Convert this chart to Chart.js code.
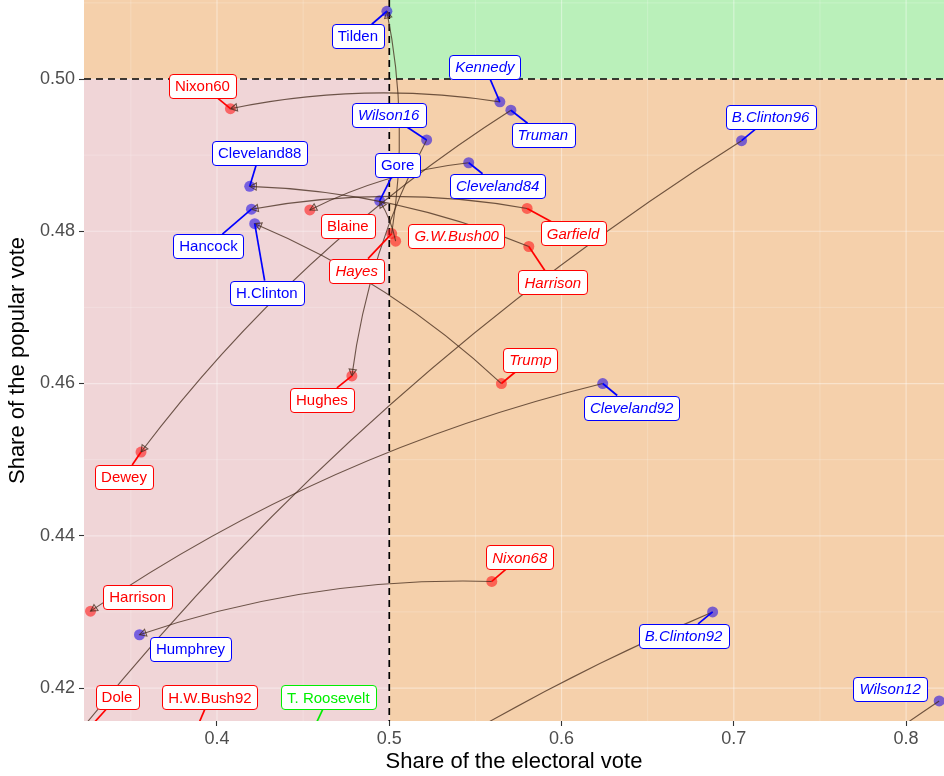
<!DOCTYPE html>
<html><head><meta charset="utf-8">
<script src="https://cdn.jsdelivr.net/npm/chart.js@4.4.1/dist/chart.umd.min.js"></script>
<style>html,body{margin:0;padding:0;background:#fff}#wrap{width:944px;height:776px;position:relative}</style>
</head><body><div id="wrap"><canvas id="c"></canvas></div>
<script>
// ---- data ----
const candidates = ["Tilden","Hayes","Hancock","Garfield","Blaine","Cleveland84","Cleveland88","Harrison","Harrison","Cleveland92","Wilson12","T. Roosevelt","Wilson16","Hughes","Truman","Dewey","Kennedy","Nixon60","Nixon68","Humphrey","B.Clinton92","H.W.Bush92","B.Clinton96","Dole","G.W.Bush00","Gore","Trump","H.Clinton"];
const years = [1876,1876,1880,1880,1884,1884,1888,1888,1892,1892,1912,1912,1916,1916,1948,1948,1960,1960,1968,1968,1992,1992,1996,1996,2000,2000,2016,2016];
const electoralShare = [0.4986,0.5014,0.4200,0.5800,0.4539,0.5461,0.4190,0.5810,0.3266,0.6239,0.8192,0.1657,0.5217,0.4783,0.5706,0.3559,0.5642,0.4078,0.5595,0.3550,0.6877,0.3123,0.7045,0.2955,0.5037,0.4944,0.5651,0.4219];
const popularShare = [0.5089,0.4797,0.4829,0.4830,0.4828,0.4890,0.4859,0.4780,0.4301,0.4600,0.4183,0.2744,0.4920,0.4610,0.4959,0.4510,0.4970,0.4961,0.4340,0.4270,0.4300,0.3745,0.4919,0.4071,0.4787,0.4840,0.4600,0.4810];
const parties = ["D","R","D","R","R","D","D","R","R","D","D","P","D","R","D","R","D","R","R","D","D","R","D","R","R","D","R","D"];
const won = [false,true,false,true,false,true,false,true,false,true,true,false,true,false,true,false,true,false,true,false,true,false,true,false,true,false,true,false];
const xTicks = [0.4,0.5,0.6,0.7,0.8];
const yTicks = [0.42,0.44,0.46,0.48,0.50];
const xMinor = [0.35,0.45,0.55,0.65,0.75];
const yMinor = [0.43,0.45,0.47,0.49,0.51];
const xRange = [0.3228,0.822];
const yRange = [0.41567,0.51038];
const majority = 0.5;

// ---- layout / style (pixel offsets of label boxes from their point) ----
const labelOffsets = [[-29,25],[-35,37],[-43,37],[46,25],[38,16],[29,23],[10,-33],[24,36],[47,-14],[29,24],[-49,-12],[515,-1099],[-38,-25],[-30,24],[32,25],[-17,25],[-15,-35],[-28,-23],[28,-24],[51,14],[-29,24],[144,-337],[29,-24],[80,-89],[61,-5],[18,-36],[29,-24],[12,69]];
const partyColor = {D:'#0000ff', R:'#ff0000', P:'#00ee00'};
const pointColor = {D:'rgba(20,0,230,0.55)', R:'rgba(255,20,20,0.58)', P:'rgba(0,220,0,0.55)'};
const FONT = "'Liberation Sans', Arial, Helvetica, sans-serif";

const datasets = ['R','D','P'].map(p => ({
  label: p,
  data: candidates.map((c,i)=>({x:electoralShare[i], y:popularShare[i], p:parties[i]})).filter(d=>d.p===p),
  pointRadius: 5.5, pointBorderWidth: 0, pointBackgroundColor: pointColor[p],
  showLine: false, clip: 0
}));

const bgPlugin = {
  id: 'bg',
  beforeDraw(chart) {
    const {ctx, chartArea: a, scales: {x, y}} = chart;
    const xm = x.getPixelForValue(majority), ym = y.getPixelForValue(majority);
    ctx.save();
    ctx.fillStyle = '#f5d0ab'; ctx.fillRect(a.left, a.top, a.width, a.height);
    ctx.fillStyle = '#f0d5d7'; ctx.fillRect(a.left, ym, xm - a.left, a.bottom - ym);
    ctx.fillStyle = '#baf0ba'; ctx.fillRect(xm, a.top, a.right - xm, ym - a.top);
    ctx.beginPath(); ctx.rect(a.left, a.top, a.width, a.height); ctx.clip();
    const line = (x1,y1,x2,y2,w,c)=>{ctx.strokeStyle=c;ctx.lineWidth=w;ctx.beginPath();ctx.moveTo(x1,y1);ctx.lineTo(x2,y2);ctx.stroke();};
    xMinor.forEach(v=>{const px=x.getPixelForValue(v); line(px,a.top,px,a.bottom,0.6,'rgba(255,255,255,0.35)');});
    yMinor.forEach(v=>{const py=y.getPixelForValue(v); line(a.left,py,a.right,py,0.6,'rgba(255,255,255,0.35)');});
    xTicks.forEach(v=>{const px=x.getPixelForValue(v); line(px,a.top,px,a.bottom,1.2,'rgba(255,255,255,0.4)');});
    yTicks.forEach(v=>{const py=y.getPixelForValue(v); line(a.left,py,a.right,py,1.2,'rgba(255,255,255,0.4)');});
    ctx.setLineDash([7,5]);
    line(xm,a.top,xm,a.bottom,1.7,'#000');
    line(a.left,ym,a.right,ym,1.7,'#000');
    ctx.restore();
  }
};

function boxOf(ctx, i, px, py) {
  ctx.font = (won[i] ? 'italic ' : '') + '15px ' + FONT;
  const w = ctx.measureText(candidates[i]).width + 12, h = 24;
  const cx = px + labelOffsets[i][0], cy = py + labelOffsets[i][1];
  return {cx, cy, w, h};
}

const annoPlugin = {
  id: 'anno',
  afterDatasetsDraw(chart) {
    const {ctx, chartArea: a, scales: {x, y}} = chart;
    const P = candidates.map((c,i)=>[x.getPixelForValue(electoralShare[i]), y.getPixelForValue(popularShare[i])]);
    ctx.save();
    ctx.beginPath(); ctx.rect(a.left, a.top, a.width, a.height); ctx.clip();
    // arrows winner -> loser
    ctx.strokeStyle = 'rgba(65,40,25,0.75)'; ctx.lineWidth = 1.1;
    candidates.forEach((c,i)=>{
      if (!won[i]) return;
      candidates.forEach((d,j)=>{
        if (j===i || years[j]!==years[i] || won[j]) return;
        const [x1,y1] = P[i], [x2,y2] = P[j];
        const dx=x2-x1, dy=y2-y1, k=0.09;
        const cx=(x1+x2)/2 - k*dy, cy=(y1+y2)/2 + k*dx;
        ctx.beginPath(); ctx.moveTo(x1,y1); ctx.quadraticCurveTo(cx,cy,x2,y2); ctx.stroke();
        const ang = Math.atan2(y2-cy, x2-cx), len=7.5, sp=0.5;
        ctx.beginPath();
        ctx.moveTo(x2,y2);
        ctx.lineTo(x2-len*Math.cos(ang-sp), y2-len*Math.sin(ang-sp));
        ctx.lineTo(x2-len*Math.cos(ang+sp), y2-len*Math.sin(ang+sp));
        ctx.closePath(); ctx.stroke();
      });
    });
    // label segments
    candidates.forEach((c,i)=>{
      const [px,py] = P[i];
      const b = boxOf(ctx, i, px, py);
      const vx = b.cx - px, vy = b.cy - py;
      const tx = Math.abs(vx) > 1e-6 ? (b.w/2)/Math.abs(vx) : Infinity;
      const ty = Math.abs(vy) > 1e-6 ? (b.h/2)/Math.abs(vy) : Infinity;
      const t = 1 - Math.min(tx, ty, 1);
      const ex = px + vx*t, ey = py + vy*t;
      if (Math.hypot(ex-px, ey-py) < 14.5) return;
      ctx.strokeStyle = partyColor[parties[i]]; ctx.lineWidth = 1.7;
      ctx.beginPath(); ctx.moveTo(px,py); ctx.lineTo(ex,ey); ctx.stroke();
    });
    ctx.restore();
    // label boxes
    ctx.save();
    candidates.forEach((c,i)=>{
      const [px,py] = P[i];
      const b = boxOf(ctx, i, px, py);
      const l = b.cx - b.w/2, t = b.cy - b.h/2, r = 3.5;
      ctx.beginPath();
      ctx.roundRect(Math.round(l)+0.5, Math.round(t)+0.5, Math.round(b.w), b.h, r);
      ctx.fillStyle = '#fff'; ctx.fill();
      ctx.strokeStyle = partyColor[parties[i]]; ctx.lineWidth = 1; ctx.stroke();
      ctx.fillStyle = partyColor[parties[i]];
      ctx.textAlign = 'center'; ctx.textBaseline = 'middle';
      ctx.fillText(c, b.cx, b.cy + 1);
    });
    ctx.restore();
  }
};

function zeroPad(s) { s.paddingTop = 0; s.paddingBottom = 0; s.paddingLeft = 0; s.paddingRight = 0; }

new Chart(document.getElementById('c'), {
  type: 'scatter',
  data: { datasets },
  options: {
    responsive: true, maintainAspectRatio: false, animation: false, events: [],
    layout: { padding: 0, autoPadding: false },
    plugins: { legend: {display:false}, tooltip: {enabled:false} },
    scales: {
      x: {
        type: 'linear', min: xRange[0], max: xRange[1],
        afterBuildTicks: s => { s.ticks = xTicks.map(v=>({value:v})); },
        afterFit: s => { s.height = 55; zeroPad(s); },
        ticks: { callback: v => v.toFixed(1), color: '#4d4d4d', font: {size: 18, family: FONT}, padding: 2, maxRotation: 0, autoSkip: false },
        grid: { drawOnChartArea: false, drawTicks: true, tickLength: 5, color: '#333', tickWidth: 1.1 },
        border: { display: false },
        title: { display: true, text: 'Share of the electoral vote', color: '#000', font: {size: 22, family: FONT}, padding: {top: 0, bottom: 1} }
      },
      y: {
        type: 'linear', min: yRange[0], max: yRange[1],
        afterBuildTicks: s => { s.ticks = yTicks.map(v=>({value:v})); },
        afterFit: s => { s.width = 84; zeroPad(s); },
        ticks: { callback: v => v.toFixed(2), color: '#4d4d4d', font: {size: 18, family: FONT}, padding: 4, autoSkip: false },
        grid: { drawOnChartArea: false, drawTicks: true, tickLength: 5, color: '#333', tickWidth: 1.1 },
        border: { display: false },
        title: { display: true, text: 'Share of the popular vote', color: '#000', font: {size: 22, family: FONT}, padding: {top: 5, bottom: 0} }
      }
    }
  },
  plugins: [bgPlugin, annoPlugin]
});
</script>
</body></html>
